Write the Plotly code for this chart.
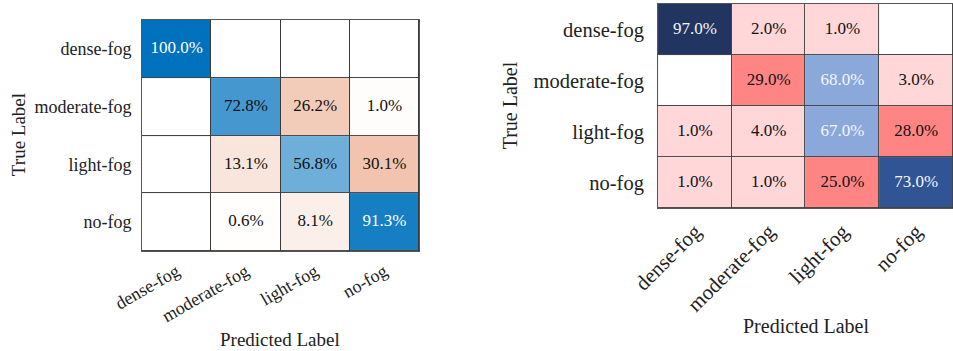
import plotly.graph_objects as go

labels = ["dense-fog", "moderate-fog", "light-fog", "no-fog"]

# Left confusion matrix (row = true label, column = predicted label), percent
left_vals = [
    [100.0, None, None, None],
    [None, 72.8, 26.2, 1.0],
    [None, 13.1, 56.8, 30.1],
    [None, 0.6, 8.1, 91.3],
]

# Right confusion matrix, percent
right_vals = [
    [97.0, 2.0, 1.0, None],
    [None, 29.0, 68.0, 3.0],
    [1.0, 4.0, 67.0, 28.0],
    [1.0, 1.0, 25.0, 73.0],
]

FONT = "Liberation Serif"
n = len(labels)

fig = go.Figure()

def base_layer(xa, ya):
    fig.add_trace(go.Heatmap(
        x=labels, y=labels, z=[[0] * n for _ in range(n)],
        colorscale=[[0, "white"], [1, "white"]], showscale=False,
        xgap=1, ygap=1, hoverinfo="skip", xaxis=xa, yaxis=ya))

# ---------- left chart ----------
base_layer("x", "y")
diag = [[left_vals[i][j] if i == j else None for j in range(n)] for i in range(n)]
off = [[left_vals[i][j] if i != j else None for j in range(n)] for i in range(n)]
fig.add_trace(go.Heatmap(
    x=labels, y=labels, z=diag, zmin=0, zmax=100,
    colorscale=[[0, "#FFFFFF"], [1, "#0072BD"]], showscale=False,
    xgap=1, ygap=1, hoverinfo="skip", xaxis="x", yaxis="y"))
fig.add_trace(go.Heatmap(
    x=labels, y=labels, z=off, zmin=0, zmax=86,
    colorscale=[[0, "#FFFFFF"], [1, "#D95319"]], showscale=False,
    xgap=1, ygap=1, hoverinfo="skip", xaxis="x", yaxis="y"))

tx, ty, tt, tc = [], [], [], []
for i in range(n):
    for j in range(n):
        v = left_vals[i][j]
        if v is None:
            continue
        tx.append(labels[j]); ty.append(labels[i]); tt.append(f"{v:.1f}%")
        tc.append("white" if (i == j and v >= 85) else "#111111")
fig.add_trace(go.Scatter(
    x=tx, y=ty, text=tt, mode="text", textfont=dict(family=FONT, size=17, color=tc),
    hoverinfo="skip", showlegend=False, cliponaxis=False, xaxis="x", yaxis="y"))

# ---------- right chart ----------
base_layer("x2", "y2")
rscale = [[0, "#FFD7D9"], [0.1, "#FFD7D9"], [0.1, "#FF8585"], [0.5, "#FF8585"],
          [0.5, "#8BA8DA"], [0.7, "#8BA8DA"], [0.7, "#305494"], [0.9, "#305494"],
          [0.9, "#213560"], [1, "#213560"]]
fig.add_trace(go.Heatmap(
    x=labels, y=labels, z=right_vals, zmin=0, zmax=100,
    colorscale=rscale, showscale=False,
    xgap=1, ygap=1, hoverinfo="skip", xaxis="x2", yaxis="y2"))

tx, ty, tt, tc = [], [], [], []
for i in range(n):
    for j in range(n):
        v = right_vals[i][j]
        if v is None:
            continue
        tx.append(labels[j]); ty.append(labels[i]); tt.append(f"{v:.1f}%")
        tc.append("#F4F6FB" if v >= 50 else "#111111")
fig.add_trace(go.Scatter(
    x=tx, y=ty, text=tt, mode="text", textfont=dict(family=FONT, size=17, color=tc),
    hoverinfo="skip", showlegend=False, cliponaxis=False, xaxis="x2", yaxis="y2"))

axis_common = dict(type="category", categoryorder="array", categoryarray=labels,
                   showgrid=False, zeroline=False, showline=True, mirror=True,
                   linecolor="#555555", linewidth=1, ticks="", fixedrange=True,
                   automargin=False)

fig.update_layout(
    width=953, height=351,
    margin=dict(l=0, r=0, t=0, b=0, autoexpand=False),
    paper_bgcolor="white", plot_bgcolor="#3a3a3a",
    font=dict(family=FONT, color="#222222"),
    showlegend=False,
    xaxis=dict(axis_common, domain=[0.149, 0.4397], anchor="y", tickangle=-30,
               tickfont=dict(size=18), ticklabelstandoff=2),
    yaxis=dict(axis_common, domain=[0.2849, 0.943], anchor="x", autorange="reversed",
               tickfont=dict(size=18), ticklabelstandoff=6),
    xaxis2=dict(axis_common, domain=[0.6905, 1.0], anchor="y2", tickangle=-45,
                tickfont=dict(size=21), ticklabelstandoff=2),
    yaxis2=dict(axis_common, domain=[0.4074, 0.9886], anchor="x2", autorange="reversed",
                tickfont=dict(size=20.5), ticklabelstandoff=9),
    annotations=[
        dict(text="True Label", x=18 / 953, y=0.615, xref="paper", yref="paper",
             textangle=-90, showarrow=False, font=dict(size=19), xanchor="center", yanchor="middle"),
        dict(text="Predicted Label", x=280 / 953, y=0.034, xref="paper", yref="paper",
             showarrow=False, font=dict(size=19), xanchor="center", yanchor="middle"),
        dict(text="True Label", x=510 / 953, y=0.70, xref="paper", yref="paper",
             textangle=-90, showarrow=False, font=dict(size=20), xanchor="center", yanchor="middle"),
        dict(text="Predicted Label", x=806 / 953, y=0.071, xref="paper", yref="paper",
             showarrow=False, font=dict(size=20), xanchor="center", yanchor="middle"),
    ],
)

fig.write_html("out.html", config={"displayModeBar": False},
               post_script="document.body.style.margin='0';")
